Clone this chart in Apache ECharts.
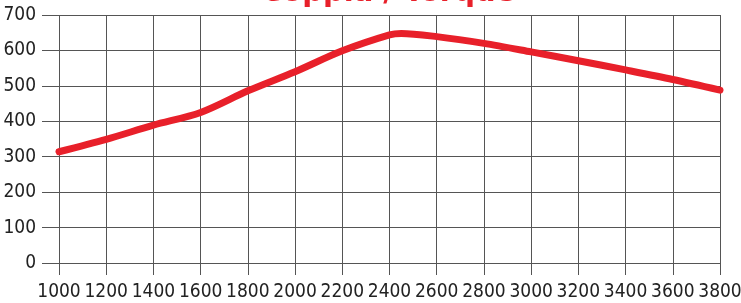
<!DOCTYPE html>
<html>
<head>
<meta charset="utf-8">
<script src="https://cdn.jsdelivr.net/npm/echarts@6/dist/echarts.min.js"></script>
<style>
  html, body { margin: 0; padding: 0; background: #fff; }
  #chart { width: 741px; height: 303px; }
</style>
</head>
<body>
<div id="chart"></div>
<script>
// rpm / torque
const rpm = [1000, 1200, 1400, 1600, 1800, 2000, 2200, 2400, 2450, 2600, 2800, 3000, 3200, 3400, 3600, 3800]
const torque = [314, 349, 389, 425, 486, 540, 599, 644, 648, 639, 620, 596, 571, 545, 518, 488]
const titleText = 'Coppia / Torque'

const gridColor = '#555'
const labelFont = "'DejaVu Sans'"

var myChart = echarts.init(document.getElementById('chart'))

const option = {
  animation: false,
  title: {
    text: titleText,
    left: 256,
    top: -26,
    textStyle: {
      color: '#e8202a',
      fontSize: 29,
      fontWeight: 'bold',
      fontFamily: "'DejaVu Sans', sans-serif"
    }
  },
  grid: {
    left: 59,
    right: 21,
    top: 15,
    bottom: 40,
    outerBoundsMode: 'none'
  },
  xAxis: {
    type: 'value',
    min: 1000,
    max: 3800,
    interval: 200,
    axisLine: { show: false },
    axisTick: {
      show: true,
      length: 12,
      lineStyle: { color: gridColor, width: 1 }
    },
    axisLabel: {
      margin: 20,
      showMinLabel: true,
      showMaxLabel: true,
      hideOverlap: false,
      formatter: v => String(v),
      color: '#222',
      fontSize: 19,
      fontStyle: 'condensed',
      fontFamily: labelFont
    },
    splitLine: {
      show: true,
      lineStyle: { color: gridColor, width: 1 }
    }
  },
  yAxis: {
    type: 'value',
    min: 0,
    max: 700,
    interval: 100,
    axisLine: { show: false },
    axisTick: {
      show: true,
      length: 17,
      lineStyle: { color: gridColor, width: 1 }
    },
    axisLabel: {
      margin: 23,
      color: '#222',
      fontSize: 19,
      fontStyle: 'condensed',
      fontFamily: labelFont
    },
    splitLine: {
      show: true,
      lineStyle: { color: gridColor, width: 1 }
    }
  },
  series: [
    {
      name: 'Torque',
      type: 'line',
      smooth: 0.3,
      symbol: 'none',
      lineStyle: { color: '#e8202a', width: 7, cap: 'round' },
      data: rpm.map((x, i) => [x, torque[i]])
    }
  ]
}

myChart.setOption(option)
</script>
</body>
</html>
